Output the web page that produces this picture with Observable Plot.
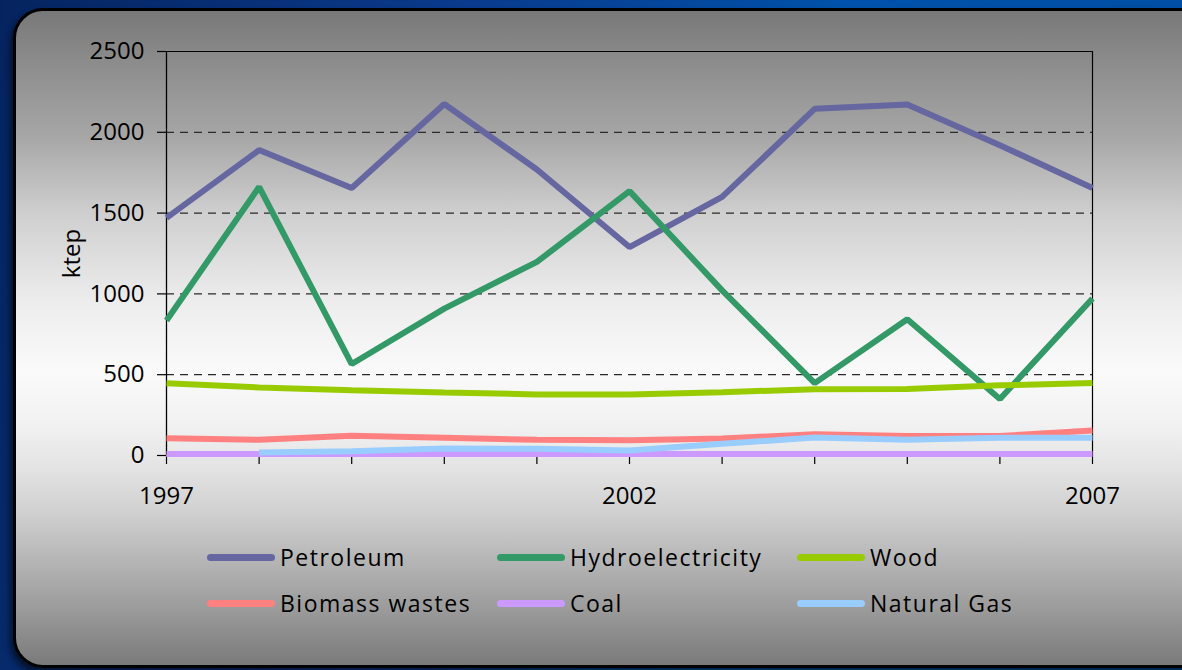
<!DOCTYPE html>
<html>
<head>
<meta charset="utf-8">
<script src="https://cdn.jsdelivr.net/npm/d3@7"></script>
<script src="https://cdn.jsdelivr.net/npm/@observablehq/plot@0.6"></script>
<style>
  html, body { margin: 0; padding: 0; width: 1182px; height: 670px; overflow: hidden; }
  body {
    background: linear-gradient(100deg, #05245f 0%, #0a3a8c 35%, #0052aa 65%, #004ea4 100%);
    font-family: "Open Sans", sans-serif;
    position: relative;
  }
  #panel {
    position: absolute; left: 13px; top: 8px; width: 1200px; height: 654px;
    border: 3px solid #000; border-radius: 30px;
    background: linear-gradient(to bottom,
      #787878 0%, #8a8a8a 7%, #a6a6a6 19%, #cfcfcf 31%, #ececec 44%,
      #fafafa 55%, #f2f2f2 63%, #e3e3e3 70%, #cfcfcf 77%, #b2b2b2 85%,
      #999 92%, #7a7a7a 100%);
    box-shadow: -3px 5px 6px rgba(0,0,0,0.55);
  }
  #chart { position: absolute; left: 0; top: 0; }
  #legend { position: absolute; left: 0; top: 0; }
  .item { position: absolute; height: 30px; display: flex; align-items: center; }
  .sw { width: 68px; height: 7px; border-radius: 4px; margin-right: 5px; }
  .lab { font-size: 23px; letter-spacing: 1.5px; color: #000; white-space: nowrap; }
</style>
</head>
<body>
<div id="panel"></div>
<div id="chart"></div>
<div id="legend"></div>
<script>
const years = [1997, 1998, 1999, 2000, 2001, 2002, 2003, 2004, 2005, 2006, 2007];
const petroleum      = [1470, 1890, 1655, 2175, 1770, 1290, 1600, 2145, 2172, 1920, 1655];
const hydro          = [835, 1662, 566, 909, 1198, 1636, 1022, 448, 843, 350, 971];
const wood           = [447, 421, 404, 390, 378, 377, 392, 410, 411, 434, 448];
const biomass        = [107, 97, 122, 110, 97, 95, 105, 132, 120, 120, 155];
const coal           = [10, 10, 10, 10, 10, 10, 10, 10, 10, 10, 10];
const naturalGas     = [null, 18, 27, 43, 42, 31, 72, 111, 97, 110, 110];

const seriesNames  = ["Petroleum", "Hydroelectricity", "Wood", "Biomass wastes", "Coal", "Natural Gas"];
const seriesValues = [petroleum, hydro, wood, biomass, coal, naturalGas];
const seriesColors = ["#6666a0", "#339966", "#99cc00", "#ff8080", "#cc99ff", "#99ccff"];

const yTicks = [0, 500, 1000, 1500, 2000, 2500];
const gridTicks = [500, 1000, 1500, 2000];
const xLabels = [1997, 2002, 2007];
const yLabel = "ktep";

const rows = [];
seriesNames.forEach((name, i) => {
  years.forEach((yr, j) => rows.push({series: name, year: yr, value: seriesValues[i][j]}));
});

const chart = Plot.plot({
  width: 1182,
  height: 670,
  marginLeft: 166,
  marginRight: 90,
  marginTop: 51,
  marginBottom: 215,
  style: {background: "transparent", fontFamily: "Open Sans, sans-serif", color: "#000", overflow: "visible"},
  x: {type: "linear", domain: [1997, 2007]},
  y: {domain: [0, 2500]},
  color: {domain: seriesNames, range: seriesColors},
  marks: [
    Plot.ruleY(gridTicks, {stroke: "#2a2a2a", strokeWidth: 1.3, strokeDasharray: "8,6"}),
    Plot.ruleY([2500], {stroke: "#000", strokeWidth: 1.2}),
    Plot.ruleX([2007], {stroke: "#000", strokeWidth: 1.2}),
    Plot.axisX({
      ticks: years, tickSize: 9, tickPadding: 22, fontSize: 24,
      tickFormat: d => xLabels.includes(d) ? String(d) : "",
      label: null, stroke: "#000", strokeWidth: 1.2
    }),
    Plot.axisY({
      ticks: yTicks, tickSize: 9, tickPadding: 13, fontSize: 24,
      tickFormat: d => String(d), label: yLabel, labelAnchor: "center",
      labelArrow: "none", labelOffset: 104, stroke: "#000", strokeWidth: 1.2
    }),
    Plot.ruleX([1997], {stroke: "#000", strokeWidth: 1.3}),
    Plot.ruleY([0], {stroke: "#808080", strokeWidth: 1.8}),
    Plot.line(rows, {
      x: "year", y: "value", z: "series", stroke: "series",
      strokeWidth: 6, strokeLinejoin: "miter", strokeLinecap: "butt"
    })
  ]
});
document.getElementById("chart").appendChild(chart);

// legend
const legend = document.getElementById("legend");
const colX = [207, 497, 797];
const rowY = [542, 588];
seriesNames.forEach((name, i) => {
  const item = document.createElement("div");
  item.className = "item";
  item.style.left = colX[i % 3] + "px";
  item.style.top = rowY[Math.floor(i / 3)] + "px";
  const sw = document.createElement("div");
  sw.className = "sw";
  sw.style.background = seriesColors[i];
  const lab = document.createElement("span");
  lab.className = "lab";
  lab.textContent = name;
  item.appendChild(sw);
  item.appendChild(lab);
  legend.appendChild(item);
});
</script>
</body>
</html>
